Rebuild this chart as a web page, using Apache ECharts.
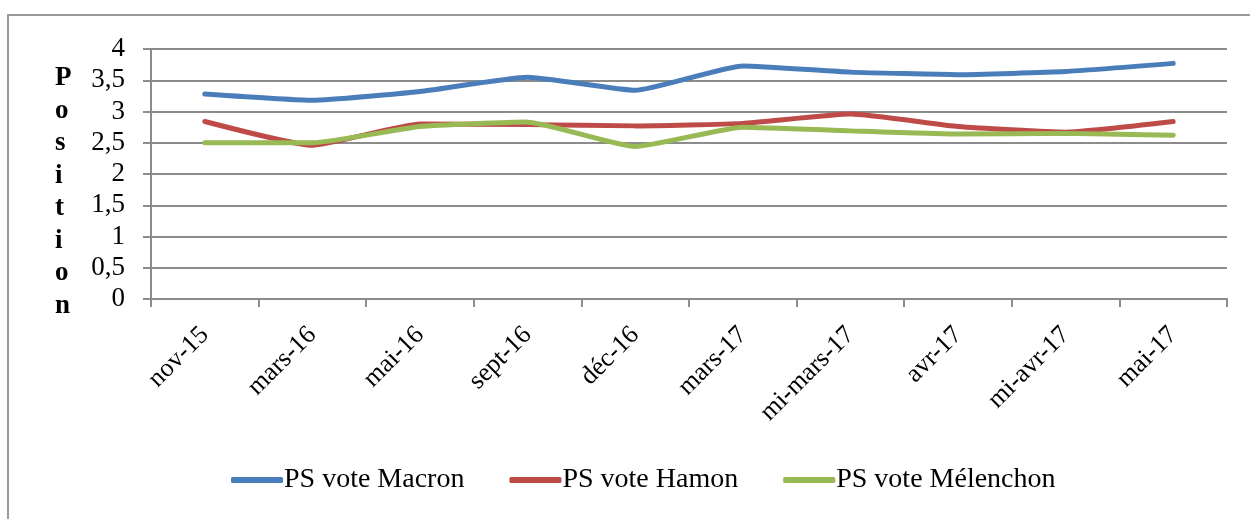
<!DOCTYPE html>
<html>
<head>
<meta charset="utf-8">
<script src="https://cdn.jsdelivr.net/npm/echarts@6/dist/echarts.min.js"></script>
<style>
  html, body { margin: 0; padding: 0; background: #fff; overflow: hidden; }
  #frame { position: absolute; left: 7px; top: 14px; width: 1300px; height: 600px; border: 2px solid #9a9a9a; box-sizing: border-box; }
  #chart { position: absolute; left: 0; top: 0; width: 1250px; height: 519px; }
</style>
</head>
<body>
<div id="frame"></div>
<div id="chart"></div>
<script>
// catégories (axe x)
const categories = ['nov-15', 'mars-16', 'mai-16', 'sept-16', 'déc-16', 'mars-17', 'mi-mars-17', 'avr-17', 'mi-avr-17', 'mai-17']
// valeurs
const macron = [3.28, 3.18, 3.32, 3.55, 3.34, 3.73, 3.63, 3.59, 3.64, 3.77]
const hamon = [2.84, 2.46, 2.8, 2.79, 2.77, 2.81, 2.96, 2.76, 2.67, 2.84]
const melenchon = [2.5, 2.5, 2.76, 2.83, 2.44, 2.75, 2.69, 2.64, 2.65, 2.62]
const seriesNames = ['PS vote Macron', 'PS vote Hamon', 'PS vote Mélenchon']
const colors = ['#4a7ebb', '#be4b48', '#98b954']

const font = '"Liberation Serif", "DejaVu Serif", serif'

function line(name, data, color) {
  return {
    name: name,
    type: 'line',
    data: data,
    smooth: 0.15,
    symbol: 'none',
    lineStyle: { color: color, width: 5, cap: 'round' },
    itemStyle: { color: color }
  }
}

const echart = echarts.init(document.getElementById('chart'), null, { renderer: 'canvas' })
echart.setOption({
  animation: false,
  color: colors,
  textStyle: { fontFamily: font, color: '#000' },
  grid: { left: 151, right: 23, top: 49, bottom: 220, containLabel: false },
  legend: {
    bottom: 20,
    left: 226,
    icon: 'roundRect',
    itemWidth: 52,
    itemHeight: 6,
    itemGap: 45,
    textStyle: { fontFamily: font, fontSize: 28, color: '#000', padding: [0, 0, 0, -4] },
    data: seriesNames
  },
  graphic: [{
    type: 'text',
    left: 55,
    top: 62,
    style: {
      text: 'P\no\ns\ni\nt\ni\no\nn',
      font: 'bold 27px ' + font,
      lineHeight: 32.5,
      fill: '#000',
      align: 'center'
    }
  }],
  xAxis: {
    type: 'category',
    data: categories,
    boundaryGap: true,
    axisLine: { lineStyle: { color: '#8c8c8c', width: 2 } },
    axisTick: { show: true, length: 8, lineStyle: { color: '#8c8c8c', width: 2 } },
    axisLabel: { rotate: 45, margin: 32, fontSize: 26, color: '#000', fontFamily: font, interval: 0 }
  },
  yAxis: {
    type: 'value',
    min: 0,
    max: 4,
    interval: 0.5,
    axisLine: { show: true, lineStyle: { color: '#8c8c8c', width: 2 } },
    axisTick: { show: true, length: 8, lineStyle: { color: '#8c8c8c', width: 2 } },
    splitLine: { lineStyle: { color: '#8c8c8c', width: 2 } },
    axisLabel: {
      margin: 26, fontSize: 27, color: '#000', fontFamily: font,
      formatter: v => String(v).replace('.', ',')
    }
  },
  series: [
    line(seriesNames[0], macron, colors[0]),
    line(seriesNames[1], hamon, colors[1]),
    line(seriesNames[2], melenchon, colors[2])
  ]
})
window.addEventListener('resize', echart.resize)
</script>
</body>
</html>
